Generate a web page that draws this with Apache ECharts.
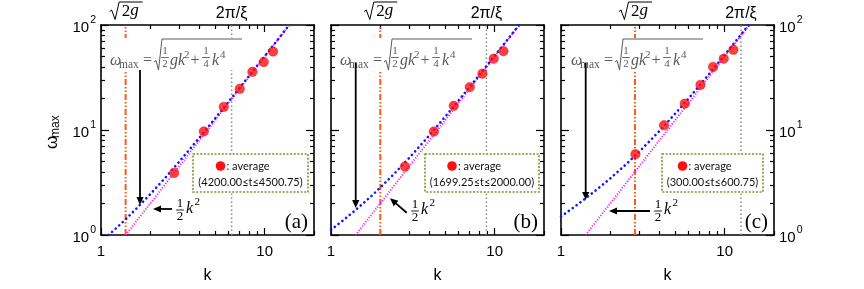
<!DOCTYPE html>
<html><head><meta charset="utf-8">
<script src="https://cdn.jsdelivr.net/npm/echarts@6/dist/echarts.min.js"></script>
<style>html,body{margin:0;padding:0;background:#fff}#c{width:864px;height:289px}</style>
</head><body><div id="c"></div>
<script>
// ---------- data ----------
const panelTags = ['(a)', '(b)', '(c)'];
const legendRanges = ['(4200.00≤t≤4500.75)', '(1699.25≤t≤2000.00)', '(300.00≤t≤600.75)'];

const kPointsA = [2.80, 4.25, 5.62, 7.04, 8.41, 9.86, 11.24];
const wPointsA = [3.9, 9.7, 16.6, 24.7, 35.8, 44.4, 55.9];
const kPointsB = [2.83, 4.25, 5.62, 7.04, 8.41, 9.86, 11.30];
const wPointsB = [4.48, 9.65, 17.0, 25.6, 34.4, 47.8, 56.3];
const kPointsC = [2.85, 4.26, 5.70, 7.11, 8.49, 9.86, 11.30];
const wPointsC = [5.88, 11.1, 17.8, 26.9, 39.9, 47.8, 58.0];

const kCurveA = [1.11, 1.2, 1.4, 1.6, 1.8, 2, 2.5, 3, 4, 5, 6, 8, 10, 12, 14.1];
const wCurveA = [1.00, 1.11, 1.39, 1.71, 2.06, 2.45, 3.59, 4.98, 8.49, 13.0, 18.5, 32.5, 50.5, 72.5, 99.9];
const kCurveB = [1, 1.2, 1.4, 1.6, 1.8, 2, 2.5, 3, 4, 5, 6, 8, 10, 12, 14.05];
const wCurveB = [1.12, 1.40, 1.71, 2.05, 2.42, 2.83, 4.00, 5.41, 8.94, 13.5, 19.0, 33.0, 51.0, 73.0, 99.7];
const kCurveC = [1, 1.2, 1.4, 1.6, 1.8, 2, 2.5, 3, 4, 5, 6, 8, 10, 12, 14];
const wCurveC = [1.50, 1.84, 2.21, 2.60, 3.02, 3.46, 4.72, 6.19, 9.80, 14.4, 19.9, 33.9, 52.0, 74.0, 100];

const kHalf = [1.414, 2, 4, 8, 14.14];
const wHalf = [1, 2, 8, 32, 100];

const kSqrt2g = [1.414, 2.0, 2.83];
const kTwoPiXi = [6.28, 8.9, 12.57];
const wSpan = [1, 100];

const xMajor = [1, 10];
const xMinor = [2, 3, 4, 5, 6, 7, 8, 9, 20];
const yMajor = [1, 10, 100];
const yMinor = [2, 3, 4, 5, 6, 7, 8, 9, 20, 30, 40, 50, 60, 70, 80, 90];

// ---------- layout ----------
const SANS = "'Liberation Sans', Arial, sans-serif";
const SERIF = "'Liberation Serif', 'DejaVu Serif', serif";
const LEG = "Lato, 'Open Sans', sans-serif";
const GL = [101, 331, 561], GT = 25, GW = 213, GH = 214;

const pointsK = [kPointsA, kPointsB, kPointsC], pointsW = [wPointsA, wPointsB, wPointsC];
const curveK = [kCurveA, kCurveB, kCurveC], curveW = [wCurveA, wCurveB, wCurveC];
const zip = (a, b) => a.map((v, i) => [v, b[i]]);

const chart = echarts.init(document.getElementById('c'), null, {renderer: 'canvas'});

const grids = [], xAxes = [], yAxes = [], series = [];
function xAx(i, pos, major) {
  const lab = major && pos === 'bottom';
  return {gridIndex: i, type: 'log', logBase: 10, min: 1, max: 20, position: pos,
    axisLine: {show: major, onZero: false, lineStyle: {color: '#000', width: 1.6}},
    axisTick: {show: true, inside: true, length: major ? 7 : 4, customValues: major ? xMajor : xMinor,
      lineStyle: {color: '#000', width: 1.2}},
    axisLabel: {show: lab, customValues: xMajor, margin: 9, color: '#000', fontSize: 15, fontFamily: SANS},
    splitLine: {show: false}, minorTick: {show: false},
    name: lab ? 'k' : '', nameLocation: 'middle', nameGap: 33,
    nameTextStyle: {fontSize: 16, color: '#000', fontFamily: SANS}};
}
function yAx(i, pos, major) {
  const lab = major && ((i === 0 && pos === 'left') || (i === 2 && pos === 'right'));
  return {gridIndex: i, type: 'log', logBase: 10, min: 1, max: 100, position: pos,
    axisLine: {show: major, onZero: false, lineStyle: {color: '#000', width: 1.6}},
    axisTick: {show: true, inside: true, length: major ? 8 : 4, customValues: major ? yMajor : yMinor,
      lineStyle: {color: '#000', width: 1.2}},
    axisLabel: {show: lab, customValues: yMajor, margin: 5, color: '#000',
      formatter: v => '{b|10}{s|' + Math.round(Math.log10(v)) + '}',
      rich: {b: {fontSize: 15, fontFamily: SANS, color: '#000', lineHeight: 20, verticalAlign: 'bottom'},
             s: {fontSize: 10.5, fontFamily: SANS, color: '#000', lineHeight: 20, verticalAlign: 'top', padding: [0, 0, 0, 1]}}},
    splitLine: {show: false}, minorTick: {show: false}};
}

for (let i = 0; i < 3; i++) {
  grids.push({left: GL[i], top: GT, width: GW, height: GH, containLabel: false});
  xAxes.push(xAx(i, 'bottom', true), xAx(i, 'bottom', false), xAx(i, 'top', true), xAx(i, 'top', false));
  yAxes.push(yAx(i, 'left', true), yAx(i, 'left', false), yAx(i, 'right', true), yAx(i, 'right', false));
  const ax = {xAxisIndex: i * 4, yAxisIndex: i * 4};
  series.push(Object.assign({type: 'line', data: zip([kSqrt2g[i], kSqrt2g[i]], wSpan), symbol: 'none', silent: true, z: 1,
    lineStyle: {color: '#ff5a14', width: 2, type: [6, 2, 1.5, 2, 1.5, 2]}}, ax));
  series.push(Object.assign({type: 'line', data: zip([kTwoPiXi[i], kTwoPiXi[i]], wSpan), symbol: 'none', silent: true, z: 1,
    lineStyle: {color: '#8a8a8a', width: 1.5, type: [1.5, 2.5]}}, ax));
  series.push(Object.assign({type: 'line', data: zip(kHalf, wHalf), symbol: 'none', silent: true, z: 2,
    lineStyle: {color: '#ff00ff', width: 2, type: [1, 1.7]}}, ax));
  series.push(Object.assign({type: 'line', data: zip(curveK[i], curveW[i]), symbol: 'none', silent: true, z: 3,
    lineStyle: {color: '#1414ff', width: 2.6, type: [0.1, 4.7], cap: 'round'}}, ax));
  series.push(Object.assign({type: 'scatter', data: zip(pointsK[i], pointsW[i]), symbol: 'circle', symbolSize: 9.5, silent: true, z: 5,
    itemStyle: {color: '#ff1010', borderColor: '#e00000', borderWidth: 0.5}}, ax));
}

chart.setOption({animation: false, backgroundColor: '#fff', grid: grids, xAxis: xAxes, yAxis: yAxes, series: series});

// ---------- annotations ----------
const G = [];
function T(x, y, s, font, color, align, z) {
  return {type: 'text', z: z || 100, silent: true, style: {x: x, y: y, text: s, font: font, fill: color || '#000',
    align: align || 'left', textAlign: align || 'left', verticalAlign: 'middle', textVerticalAlign: 'middle'}};
}
function Ln(x1, y1, x2, y2, color, w) {
  return {type: 'line', z: 100, silent: true, shape: {x1: x1, y1: y1, x2: x2, y2: y2}, style: {stroke: color || '#000', lineWidth: w || 1}};
}
function PL(pts, color, w) {
  return {type: 'polyline', z: 100, silent: true, shape: {points: pts}, style: {stroke: color, fill: null, lineWidth: w}};
}
function arrow(x1, y1, x2, y2) {
  const dx = x2 - x1, dy = y2 - y1, len = Math.hypot(dx, dy), ux = dx / len, uy = dy / len;
  const hl = 8, hw = 3.6;
  const bx = x2 - ux * hl, by = y2 - uy * hl;
  G.push(Ln(x1, y1, bx + ux, by + uy, '#000', 1.8));
  G.push({type: 'polygon', z: 100, silent: true, shape: {points: [[x2, y2], [bx - uy * hw, by + ux * hw], [bx + uy * hw, by - ux * hw]]},
    style: {fill: '#000'}});
}
function frac(cx, by, num, den, size, color) {
  G.push(T(cx, by - 6.5, num, size + 'px ' + SERIF, color, 'center'));
  G.push(Ln(cx - 3.8, by, cx + 3.8, by, color, 0.9));
  G.push(T(cx, by + 7, den, size + 'px ' + SERIF, color, 'center'));
}
function formula(x0) {
  const c = '#5a5a5a';
  G.push({type: 'rect', z: 90, silent: true, shape: {x: x0 - 3, y: 38, width: 137, height: 32}, style: {fill: '#fff'}});
  G.push(T(x0, 61, 'ω', 'italic 16px ' + SERIF, c));
  G.push(T(x0 + 9, 65, 'max', '11.5px ' + SERIF, c));
  G.push(T(x0 + 33, 61, '=', '16px ' + SERIF, c));
  G.push(PL([[x0 + 44, 62], [x0 + 46, 60.5], [x0 + 48.5, 70], [x0 + 52, 39], [x0 + 132, 39]], c, 1));
  frac(x0 + 55, 57.5, '1', '2', 11, c);
  G.push(T(x0 + 60, 61, 'gk', 'italic 16px ' + SERIF, c));
  G.push(T(x0 + 74, 55, '2', '11px ' + SERIF, c));
  G.push(T(x0 + 85, 61, '+', '16px ' + SERIF, c, 'center'));
  frac(x0 + 96, 57.5, '1', '4', 11, c);
  G.push(T(x0 + 102, 61, 'k', 'italic 16px ' + SERIF, c));
  G.push(T(x0 + 110, 55, '4', '11px ' + SERIF, c));
}
function halfK2(cx, by) {
  frac(cx, by, '1', '2', 13, '#000');
  G.push(T(cx + 6, by - 1, 'k', 'italic 16px ' + SERIF, '#000'));
  G.push(T(cx + 14.5, by - 8, '2', '11px ' + SERIF, '#000'));
}
const fx0 = [110, 340, 571];
const halfPos = [[180, 210], [415, 211], [658, 211]];
const vArrows = [[140, 70, 140, 205], [355.7, 63, 355.7, 208], [585.7, 63, 585.7, 200]];
const kArrows = [[172, 209, 153, 209], [406.7, 212.7, 390, 198.3], [650, 211, 609, 211]];
const legBox = [[193, 308], [425, 539], [662, 763]];

for (let i = 0; i < 3; i++) {
  formula(fx0[i]);
  arrow.apply(null, vArrows[i]);
  arrow.apply(null, kArrows[i]);
  halfK2(halfPos[i][0], halfPos[i][1]);
  // legend box
  const [bx0, bx1] = legBox[i], bc = (bx0 + bx1) / 2;
  G.push({type: 'rect', z: 95, silent: true, shape: {x: bx0, y: 154, width: bx1 - bx0, height: 38},
    style: {fill: '#fff', stroke: '#6f9b2a', lineWidth: 1.6, lineDash: [2, 1.6]}});
  G.push({type: 'circle', z: 100, silent: true, shape: {cx: bc - 30, cy: 166, r: 4.8}, style: {fill: '#ff1010'}});
  G.push(T(bc - 24, 166, ': average', '11px ' + LEG, '#111'));
  G.push(T(bc, 182, legendRanges[i], '11px ' + LEG, '#111', 'center'));
  // panel tag
  G.push(T(GL[i] + GW - 6, 222, panelTags[i], '21px ' + SERIF, '#000', 'right'));
  // top labels aligned with the vertical reference lines
  const p1 = chart.convertToPixel({xAxisIndex: i * 4, yAxisIndex: i * 4}, [kSqrt2g[i], 100]);
  const p2 = chart.convertToPixel({xAxisIndex: i * 4, yAxisIndex: i * 4}, [kTwoPiXi[i], 100]);
  const cx = p1[0];
  G.push(PL([[cx - 16, 11.5], [cx - 14, 10], [cx - 10.5, 19.5], [cx - 6.5, 2], [cx + 17, 2]], '#000', 1));
  G.push(T(cx - 4, 12, '2', '17px ' + SERIF, '#000'));
  G.push(T(cx + 4.5, 11, 'g', 'italic 17px ' + SERIF, '#000'));
  G.push(T(p2[0], 14, '2π/ξ', '16px ' + SANS, '#000', 'center'));
}
// y axis title
G.push({type: 'group', x: 52, y: 132, rotation: Math.PI / 2, silent: true, children: [
  T(-17, 0, 'ω', '17px ' + SANS, '#000'),
  T(-6, 4, 'max', '12px ' + SANS, '#000')
]});

chart.setOption({graphic: {elements: G}});
</script>
</body></html>
